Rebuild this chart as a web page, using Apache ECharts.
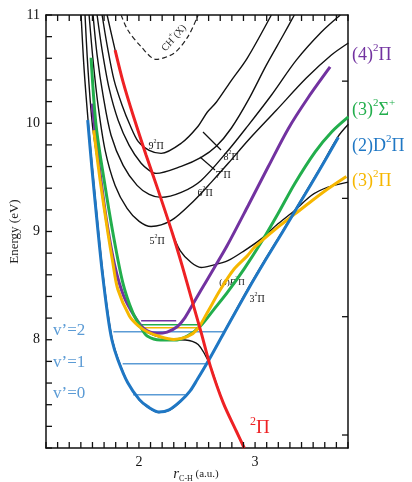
<!DOCTYPE html>
<html>
<head>
<meta charset="UTF-8">
<title>CH potential energy curves</title>
<style>
  html, body { margin: 0; padding: 0; width: 100%; height: 100%; background: #fff; }
  #main { width: 412px; height: 482px; }
</style>
<script src="https://cdn.jsdelivr.net/npm/echarts@6/dist/echarts.min.js"></script>
</head>
<body>
<div id="main"></div>
<script>
  // coloured (diabatic) curves, [r (a.u.), E (eV)]
  var blueD2Pi = [[1.559,10.03],[1.597,9.565],[1.648,9.0],[1.683,8.639],[1.732,8.222],[1.769,7.991],[1.818,7.818],[1.904,7.602],[2.004,7.447],[2.079,7.38],[2.172,7.333],[2.26,7.352],[2.358,7.432],[2.441,7.528],[2.502,7.632],[2.588,7.787],[2.732,8.065],[2.933,8.451],[3.097,8.75],[3.234,8.991],[3.398,9.287],[3.553,9.565],[3.717,9.87]];
  var yellow3Pi = [[1.611,9.935],[1.666,9.472],[1.732,8.994],[1.775,8.713],[1.818,8.466],[1.918,8.219],[1.993,8.13],[2.071,8.074],[2.185,8.028],[2.301,8.003],[2.416,8.028],[2.502,8.095],[2.588,8.25],[2.703,8.466],[2.818,8.651],[2.933,8.775],[2.996,8.855],[3.197,9.04],[3.341,9.16],[3.484,9.28],[3.628,9.395],[3.786,9.509]];
  var green3Sigma = [[1.588,10.605],[1.631,9.981],[1.703,9.457],[1.775,8.994],[1.861,8.528],[1.947,8.25],[2.019,8.111],[2.071,8.034],[2.185,7.997],[2.301,7.997],[2.416,8.034],[2.53,8.127],[2.646,8.281],[2.76,8.435],[2.909,8.66],[3.053,8.9],[3.197,9.164],[3.341,9.442],[3.516,9.734],[3.659,9.92],[3.803,10.059]];
  var purple4Pi = [[1.597,10.182],[1.62,9.954],[1.668,9.519],[1.724,9.083],[1.792,8.685],[1.868,8.407],[1.959,8.222],[2.045,8.102],[2.157,8.059],[2.243,8.071],[2.329,8.12],[2.387,8.19],[2.444,8.29],[2.53,8.45],[2.646,8.66],[2.76,8.87],[2.941,9.24],[3.114,9.6],[3.286,9.95],[3.459,10.24],[3.646,10.52]];
  var red2Pi = [[1.795,10.676],[1.864,10.38],[1.95,10.074],[2.062,9.704],[2.166,9.38],[2.286,8.991],[2.372,8.685],[2.45,8.389],[2.536,8.065],[2.614,7.759],[2.726,7.417],[2.838,7.157],[2.907,7.0]];

  // short level lines
  var vLevel0 = [[1.95,7.491],[2.40,7.491]];
  var vLevel1 = [[1.86,7.778],[2.583,7.778]];
  var vLevel2 = [[1.78,8.074],[2.737,8.074]];
  var yellowLevel = [[2.019,8.111],[2.51,8.111]];
  var greenLevel = [[2.019,8.139],[2.51,8.139]];
  var purpleLevel = [[2.019,8.176],[2.321,8.176]];

  // black (adiabatic) curves
  var black3Pi = [[1.502,11.0],[1.528,10.5],[1.562,10.03],[1.601,9.565],[1.652,9.0],[1.687,8.639],[1.736,8.222],[1.773,7.991],[1.822,7.818],[1.906,7.6],[2.004,7.442],[2.079,7.375],[2.172,7.328],[2.26,7.347],[2.358,7.428],[2.441,7.525],[2.502,7.63],[2.588,7.787],[2.732,8.07],[2.933,8.46],[3.097,8.76],[3.234,9.0],[3.398,9.295],[3.553,9.575],[3.717,9.88],[3.803,9.99]];
  var blackLow = [[1.536,11.0],[1.562,10.491],[1.6,9.981],[1.669,9.472],[1.735,8.994],[1.778,8.713],[1.821,8.466],[1.92,8.215],[1.995,8.125],[2.071,8.068],[2.185,8.022],[2.301,8.0],[2.40,7.998],[2.46,7.985],[2.51,7.955],[2.56,7.88],[2.614,7.759],[2.726,7.417],[2.838,7.157],[2.907,7.0]];
  var black4E = [[1.726,11.0],[1.795,10.676],[1.864,10.38],[1.95,10.074],[2.062,9.704],[2.166,9.38],[2.286,8.991],[2.355,8.824],[2.45,8.713],[2.536,8.667],[2.622,8.685],[2.766,8.731],[2.909,8.824],[3.053,8.932],[3.197,9.071],[3.341,9.194],[3.484,9.333],[3.628,9.41],[3.801,9.456]];
  var black9Pi = [[1.683,11.0],[1.726,10.722],[1.786,10.398],[1.855,10.167],[1.924,9.981],[1.993,9.833],[2.088,9.75],[2.191,9.722],[2.364,9.815],[2.502,9.963],[2.588,10.102],[2.666,10.194],[2.786,10.38],[2.933,10.602],[3.14,11.0]];
  var black8Pi = [[1.64,11.0],[1.683,10.676],[1.743,10.324],[1.821,10.028],[1.916,9.796],[2.019,9.63],[2.088,9.565],[2.148,9.537],[2.364,9.602],[2.536,9.685],[2.666,9.787],[2.795,9.954],[2.941,10.213],[3.097,10.537],[3.243,10.815],[3.338,11.0]];
  var black7Pi = [[1.605,11.0],[1.64,10.63],[1.691,10.259],[1.76,9.889],[1.864,9.611],[1.984,9.426],[2.088,9.343],[2.191,9.315],[2.364,9.361],[2.536,9.472],[2.769,9.75],[2.941,9.981],[3.14,10.259],[3.355,10.583],[3.571,10.843],[3.734,11.0]];
  var black6Pi = [[1.571,11.0],[1.605,10.583],[1.648,10.167],[1.709,9.75],[1.795,9.426],[1.898,9.213],[2.002,9.093],[2.105,9.046],[2.278,9.102],[2.476,9.287],[2.622,9.454],[2.769,9.63],[2.941,9.843],[3.183,10.12],[3.441,10.417],[3.657,10.63],[3.803,10.741]];
  var chPlusX = [[1.847,11.0],[1.904,10.861],[2.019,10.707],[2.148,10.59],[2.303,10.648],[2.422,10.8],[2.51,11.0]];

  // axis ticks and labels
  var xLabels = [2, 3];
  var yLabels = [8, 9, 10, 11];
  var rightTicks = [7.12, 8.213, 9.306, 10.389];
  var xTicks = [];
  for (var i = 12; i <= 38; i++) xTicks.push(i / 10);
  var yTicks = [];
  for (var j = 35; j <= 55; j++) yTicks.push(j / 5);

  // frame tick marks: [x, y, side] side 0 = bottom, 1 = top, 2 = left, 3 = right
  var frameMarks = [];
  xTicks.forEach(function (v) { frameMarks.push([v, 7, 0]); frameMarks.push([v, 11, 1]); });
  yTicks.forEach(function (v) { frameMarks.push([1.2, v, 2]); });
  rightTicks.forEach(function (v) { frameMarks.push([3.8, v, 3]); });

  var serif = '"Liberation Serif", "DejaVu Serif", serif';
  var BLUE = '#1f77c4', GREEN = '#22ae4c', PURPLE = '#7232a0', YELLOW = '#f6b700', RED = '#ee2124', LIGHTBLUE = '#5b9bd5';
  var FRAME = '#111';

  var chart = echarts.init(document.getElementById('main'));

  function curve(data, color, width, z, dash) {
    return {
      type: 'line', data: data, smooth: 0.3, symbol: 'none', silent: true, z: z,
      lineStyle: { color: color, width: width, type: dash || 'solid' }
    };
  }

  function sup(color, big, small) {
    return {
      m: { fontFamily: serif, fontSize: big, fill: color, lineHeight: big + 6 },
      s: { fontFamily: serif, fontSize: small, fill: color, verticalAlign: 'top', lineHeight: small }
    };
  }

  function frameAxis(pos, labels) {
    return {
      type: 'value', position: pos,
      axisLine: { show: true, onZero: false, lineStyle: { color: FRAME, width: 1.5 } },
      axisTick: { show: false },
      splitLine: { show: false },
      axisLabel: labels ? { show: true, customValues: labels, fontFamily: serif, fontSize: 14, color: '#111' } : { show: false }
    };
  }

  var xBottom = Object.assign(frameAxis('bottom', xLabels), { min: 1.2, max: 3.8 });
  xBottom.axisLabel.margin = 7;
  var xTop = Object.assign(frameAxis('top', null), { min: 1.2, max: 3.8 });
  var yLeft = Object.assign(frameAxis('left', yLabels), {
    min: 7, max: 11,
    name: 'Energy (eV)', nameLocation: 'middle', nameGap: 25, nameRotate: 90, nameMoveOverlap: false,
    nameTextStyle: { fontFamily: serif, fontSize: 13, color: '#222' }
  });
  yLeft.axisLabel.margin = 6;
  var yRight = Object.assign(frameAxis('right', null), { min: 7, max: 11 });

  // short inward tick marks drawn on the frame
  var tickSeries = {
    type: 'custom', data: frameMarks, silent: true, z: 20, clip: false,
    encode: { x: 0, y: 1 },
    renderItem: function (params, api) {
      var p = api.coord([api.value(0), api.value(1)]);
      var side = api.value(2);
      var len = 6;
      var d = [[0, -len], [0, len], [len, 0], [-len, 0]][side];
      return {
        type: 'line',
        shape: { x1: p[0], y1: p[1], x2: p[0] + d[0], y2: p[1] + d[1] },
        style: { stroke: FRAME, lineWidth: 1.3 }
      };
    }
  };

  var option = {
    animation: false,
    backgroundColor: '#fff',
    grid: { left: 45, right: 64, top: 15, bottom: 34 },
    xAxis: [xBottom, xTop],
    yAxis: [yLeft, yRight],
    series: [
      curve(chPlusX, '#222', 1.2, 2, [5, 3]),
      curve(black9Pi, '#111', 1.4, 2),
      curve(black8Pi, '#111', 1.4, 2),
      curve(black7Pi, '#111', 1.4, 2),
      curve(black6Pi, '#111', 1.4, 2),
      curve(black4E, '#111', 1.4, 2),
      curve(blackLow, '#111', 1.4, 2),
      curve(black3Pi, '#111', 1.4, 2),
      curve(vLevel0, LIGHTBLUE, 1.5, 3),
      curve(vLevel1, LIGHTBLUE, 1.5, 3),
      curve(vLevel2, LIGHTBLUE, 1.5, 3),
      curve(purpleLevel, PURPLE, 1.5, 3),
      curve(greenLevel, GREEN, 1.5, 3),
      curve(yellowLevel, YELLOW, 1.5, 3),
      curve(purple4Pi, PURPLE, 3, 4),
      curve(green3Sigma, GREEN, 3, 5),
      curve(yellow3Pi, YELLOW, 3, 6),
      curve(blueD2Pi, BLUE, 3, 7),
      curve(red2Pi, RED, 3, 8),
      tickSeries
    ],
    graphic: [
      // right-hand state names
      { type: 'text', x: 352, y: 55, style: { text: '{m|(4)}{s|2}{m|Π}', rich: sup(PURPLE, 18, 11), verticalAlign: 'middle' } },
      { type: 'text', x: 352, y: 110, style: { text: '{m|(3)}{s|2}{m|Σ}{s|+}', rich: sup(GREEN, 18, 11), verticalAlign: 'middle' } },
      { type: 'text', x: 352, y: 146, style: { text: '{m|(2)D}{s|2}{m|Π}', rich: sup(BLUE, 18, 11), verticalAlign: 'middle' } },
      { type: 'text', x: 352, y: 181, style: { text: '{m|(3)}{s|2}{m|Π}', rich: sup(YELLOW, 18, 11), verticalAlign: 'middle' } },
      { type: 'text', x: 250, y: 428, style: { text: '{s|2}{m|Π}', rich: sup(RED, 19, 12), verticalAlign: 'middle' } },
      // vibrational levels
      { type: 'text', x: 53, y: 331, style: { text: 'v’=2', fontFamily: serif, fontSize: 17, fill: LIGHTBLUE, verticalAlign: 'middle' } },
      { type: 'text', x: 53, y: 363, style: { text: 'v’=1', fontFamily: serif, fontSize: 17, fill: LIGHTBLUE, verticalAlign: 'middle' } },
      { type: 'text', x: 53, y: 394, style: { text: 'v’=0', fontFamily: serif, fontSize: 17, fill: LIGHTBLUE, verticalAlign: 'middle' } },
      // small black labels
      { type: 'text', x: 174, y: 38, rotation: 0.85, style: { text: '{m|CH}{s|+}{m|(X)}', rich: sup('#222', 10, 7), align: 'center', verticalAlign: 'middle' } },
      { type: 'text', x: 156, y: 146, style: { text: '{m|9}{s|2}{m|Π}', rich: sup('#111', 10, 6), align: 'center', verticalAlign: 'middle' } },
      { type: 'text', x: 231, y: 157, style: { text: '{m|8}{s|2}{m|Π}', rich: sup('#111', 10, 6), align: 'center', verticalAlign: 'middle' } },
      { type: 'text', x: 223, y: 175, style: { text: '{m|7}{s|2}{m|Π}', rich: sup('#111', 10, 6), align: 'center', verticalAlign: 'middle' } },
      { type: 'text', x: 205, y: 193, style: { text: '{m|6}{s|2}{m|Π}', rich: sup('#111', 10, 6), align: 'center', verticalAlign: 'middle' } },
      { type: 'text', x: 157, y: 241, style: { text: '{m|5}{s|2}{m|Π}', rich: sup('#111', 10, 6), align: 'center', verticalAlign: 'middle' } },
      { type: 'text', x: 232, y: 283, style: { text: '{m|(4)}{i|E}{s|2}{m|Π}', rich: Object.assign(sup('#111', 9, 6), { i: { fontFamily: serif, fontSize: 9, fontStyle: 'italic', fill: '#111', lineHeight: 15 } }), align: 'center', verticalAlign: 'middle' } },
      { type: 'text', x: 257, y: 299, style: { text: '{m|3}{s|2}{m|Π}', rich: sup('#111', 10, 6), align: 'center', verticalAlign: 'middle' } },
      // leader marks for 8²Π and 7²Π
      { type: 'line', shape: { x1: 203, y1: 132, x2: 221, y2: 150 }, style: { stroke: '#111', lineWidth: 1.2 } },
      { type: 'line', shape: { x1: 200, y1: 157, x2: 215, y2: 170 }, style: { stroke: '#111', lineWidth: 1.2 } },
      // x axis title
      { type: 'text', x: 196, y: 474, style: { text: '{i|r}{b|C-H}{n| (a.u.)}', align: 'center', verticalAlign: 'middle',
        rich: {
          i: { fontFamily: serif, fontSize: 15, fontStyle: 'italic', fill: '#222', lineHeight: 18 },
          b: { fontFamily: serif, fontSize: 8, fill: '#222', verticalAlign: 'bottom', lineHeight: 8 },
          n: { fontFamily: serif, fontSize: 11, fill: '#222', lineHeight: 18 }
        } } }
    ]
  };

  chart.setOption(option);
</script>
</body>
</html>
